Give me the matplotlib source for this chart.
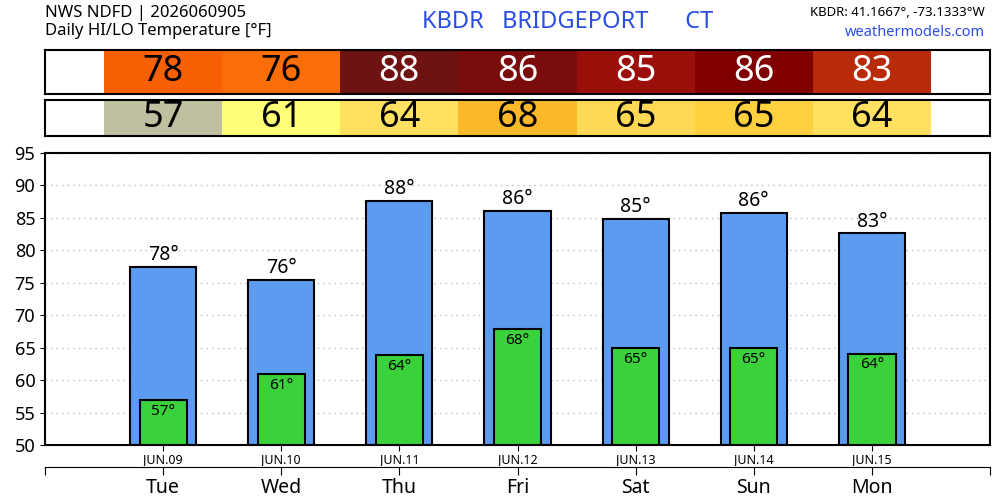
import matplotlib.pyplot as plt

days = ['Tue', 'Wed', 'Thu', 'Fri', 'Sat', 'Sun', 'Mon']
dates = ['JUN.09', 'JUN.10', 'JUN.11', 'JUN.12', 'JUN.13', 'JUN.14', 'JUN.15']
hi = [77.5, 75.5, 87.6, 86.0, 84.9, 85.8, 82.6]
lo = [56.9, 60.9, 63.9, 67.9, 64.9, 64.9, 64.1]
hi_lbl = [78, 76, 88, 86, 85, 86, 83]
lo_lbl = [57, 61, 64, 68, 65, 65, 64]
hi_colors = ['#f86005', '#fb6e07', '#6e1212', '#7a0c0c', '#9a0f0a', '#800000', '#b82a08']
lo_colors = ['#c0c0a0', '#ffff77', '#ffe060', '#fbb829', '#ffd955', '#ffd040', '#ffe060']
hi_text = ['black', 'black', 'white', 'white', 'white', 'white', 'white']

plt.rcParams['font.family'] = ['Noto Sans', 'DejaVu Sans']
fig = plt.figure(figsize=(10, 5), dpi=100)
W, H = 1000, 500

def ax_px(x0, y0, x1, y1):
    return fig.add_axes([x0 / W, 1 - y1 / H, (x1 - x0) / W, (y1 - y0) / H])

x = list(range(len(days)))

# color tables
for (y0, y1), vals, cols, tcols in [((50, 94), hi_lbl, hi_colors, hi_text),
                                    ((100, 136), lo_lbl, lo_colors, ['black'] * 7)]:
    t = ax_px(45, y0, 990, y1)
    t.bar(x, [1] * 7, width=1.0, color=cols, bottom=0)
    for i, v in enumerate(vals):
        t.text(i, 0.5, str(v), ha='center', va='center', fontsize=26, color=tcols[i])
    t.set_xlim(-1, 7)
    t.set_ylim(0, 1)
    t.set_xticks([])
    t.set_yticks([])
    for s in t.spines.values():
        s.set_linewidth(1.5)

# main chart
ax = ax_px(45, 153, 990, 445)
ax.bar(x, [h - 50 for h in hi], bottom=50, width=0.56, color='#5b9cf0', edgecolor='black', linewidth=1.5, zorder=2)
ax.bar(x, [l - 50 for l in lo], bottom=50, width=0.40, color='#3bd13b', edgecolor='black', linewidth=1.5, zorder=3)
for i in x:
    ax.text(i, hi[i] + 0.3, f'{hi_lbl[i]}°', ha='center', va='bottom', fontsize=14, zorder=4)
    ax.text(i, lo[i] - 0.6, f'{lo_lbl[i]}°', ha='center', va='top', fontsize=11, zorder=4)
ax.set_xlim(-1, 7)
ax.set_ylim(50, 95)
ax.set_yticks(range(50, 96, 5))
ax.tick_params(axis='y', labelsize=13)
ax.set_xticks(x)
ax.set_xticklabels(dates, fontsize=9)
ax.tick_params(axis='x', length=4, pad=2)
ax.grid(axis='y', color='#bbbbbb', linestyle=(0, (1, 3)), linewidth=1, zorder=0)
for s in ax.spines.values():
    s.set_linewidth(1.5)

# day axis
d = ax_px(45, 466, 990, 467)
d.set_xlim(-1, 7)
for s in ['top', 'left', 'right']:
    d.spines[s].set_visible(False)
d.set_yticks([])
d.set_xticks([-1] + x + [7])
d.set_xticklabels([''] + days + [''], fontsize=14)
d.tick_params(axis='x', length=6, pad=2)

fig.text(45 / W, 1 - 13 / H, 'NWS NDFD | 2026060905', fontsize=12, va='center')
fig.text(45 / W, 1 - 31 / H, 'Daily HI/LO Temperature [°F]', fontsize=12, va='center')
fig.text(568 / W, 1 - 22 / H, 'KBDR   BRIDGEPORT      CT', fontsize=17, color='#2a4fe0',
         ha='center', va='center', fontweight='bold')
fig.text(985 / W, 1 - 13 / H, 'KBDR: 41.1667°, -73.1333°W', fontsize=9.5, ha='right', va='center', fontweight='bold')
fig.text(985 / W, 1 - 32 / H, 'weathermodels.com', fontsize=10.5, ha='right', va='center',
         color='#2a4fe0', fontweight='bold')

fig.savefig('out.png', dpi=100)
